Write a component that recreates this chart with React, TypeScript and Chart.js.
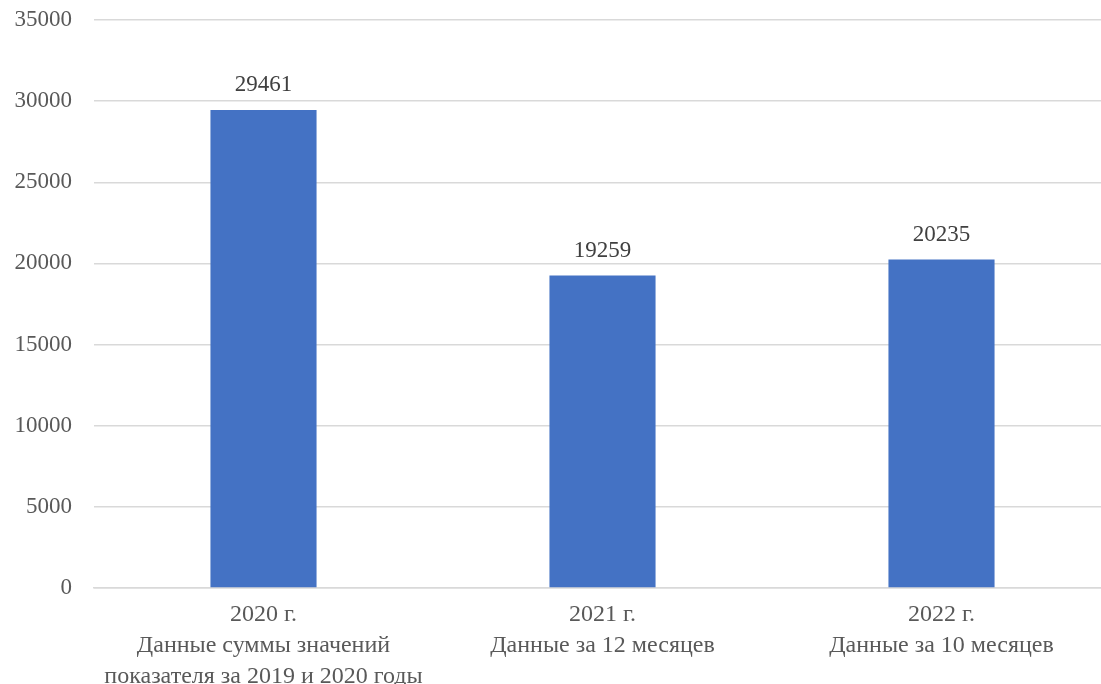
import React, { useEffect, useRef } from "react";
import { Chart, registerables } from "chart.js";

Chart.register(...registerables);

const categories: string[][] = [
  ["2020 г.", "Данные суммы значений", "показателя за 2019 и 2020 годы"],
  ["2021 г.", "Данные за 12 месяцев"],
  ["2022 г.", "Данные за 10 месяцев"],
];
const values: number[] = [29461, 19259, 20235];
const yMin = 0;
const yMax = 35000;
const yStep = 5000;

const FONT = "'Liberation Serif', 'Times New Roman', serif";

const dataLabels = {
  id: "dataLabels",
  afterDatasetsDraw(chart: any) {
    const ctx = chart.ctx;
    const meta = chart.getDatasetMeta(0);
    ctx.save();
    ctx.font = `23px ${FONT}`;
    ctx.fillStyle = "#404040";
    ctx.textAlign = "center";
    ctx.textBaseline = "middle";
    meta.data.forEach((bar: any, i: number) => {
      ctx.fillText(String(values[i]), bar.x, bar.y - 25);
    });
    ctx.restore();
  },
};

export default function App() {
  const ref = useRef<HTMLCanvasElement | null>(null);
  useEffect(() => {
    if (!ref.current) return;
    const chart = new Chart(ref.current, {
      type: "bar",
      data: {
        labels: categories,
        datasets: [
          {
            data: values,
            backgroundColor: "#4472C4",
            barPercentage: 0.313,
            categoryPercentage: 1,
          },
        ],
      },
      options: {
        animation: false,
        responsive: true,
        maintainAspectRatio: false,
        layout: { padding: { top: 20, right: 9, left: 0, bottom: 0 } },
        plugins: { legend: { display: false }, tooltip: { enabled: false } },
        scales: {
          x: {
            grid: { display: false },
            border: { display: true, color: "#d9d9d9", width: 1.5 },
            ticks: {
              color: "#595959",
              font: { family: FONT, size: 24, lineHeight: 1.29 },
              padding: 3,
              maxRotation: 0,
              autoSkip: false,
            },
            afterFit(scale: any) {
              scale.height = 96;
            },
          },
          y: {
            min: yMin,
            max: yMax,
            grid: { color: "#d9d9d9", lineWidth: 1.5, drawTicks: false },
            border: { display: false },
            ticks: {
              stepSize: yStep,
              color: "#595959",
              font: { family: FONT, size: 23 },
              padding: 22,
              callback: (v: any) => String(v),
            },
            afterFit(scale: any) {
              scale.width = 94;
              scale.paddingTop = 0;
              scale.paddingBottom = 0;
            },
          },
        },
      },
      plugins: [dataLabels],
    });
    return () => chart.destroy();
  }, []);
  return (
    <div
      style={{
        position: "fixed",
        left: 0,
        top: 0,
        width: 1101,
        height: 684,
        overflow: "hidden",
        background: "#fff",
      }}
    >
      <div style={{ width: 1120, height: 684, position: "relative" }}>
        <canvas ref={ref} />
      </div>
    </div>
  );
}
